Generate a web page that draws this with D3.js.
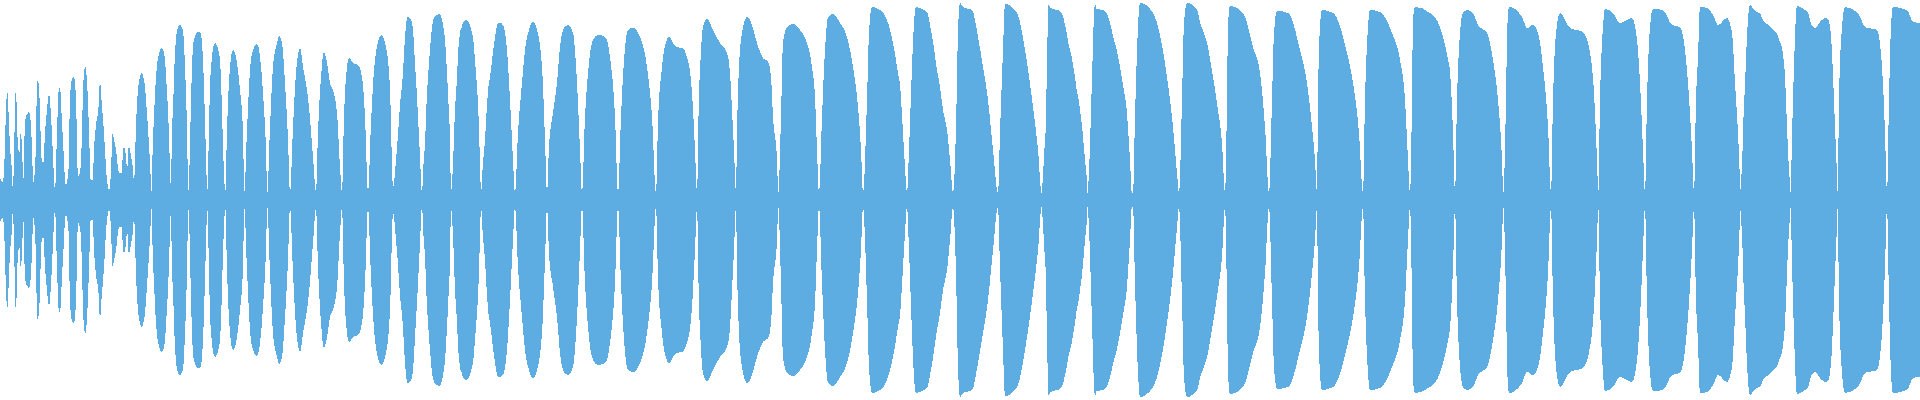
<!DOCTYPE html>
<html>
<head>
<meta charset="utf-8">
<script src="https://cdn.jsdelivr.net/npm/d3@7"></script>
<style>
html,body{margin:0;padding:0;background:#fff;overflow:hidden}
</style>
</head>
<body>
<div id="wave"></div>
<script>
// waveform envelope: [frame, peak level]  (level 200 = full scale)
var onset = [[0,22],[2.7,18],[4,27],[5,57],[6,90],[7.3,108],[8.3,93],[10,53],[11.7,33],[12.7,12],[14,40],[15,92],[16,112],[17.3,67],[19.3,47],[20.7,67],[22,53],[23.3,20],[25,77],[26.7,85],[29.3,88],[31.7,60],[33.3,17],[35.3,37],[36.7,100],[37.7,120],[39.3,107],[41.7,40],[43.3,37],[45,67],[46.7,87],[49,106],[50.7,90],[52.7,50],[55,10],[57.3,77],[58.7,110],[60,113],[61.7,83],[63.3,53],[65.7,15],[68.3,27],[70,100],[71.7,120],[74,123],[76,100],[78,23],[80,27],[81.7,57],[83.3,117],[85.3,134],[87.3,113],[89,70],[90.7,20],[92.7,20],[94,50],[96,75],[98.3,90],[100,118],[101.7,97],[104,67],[106.7,23],[109,10],[110.7,23],[112.7,67],[114,60],[116,50],[118.3,30],
	[120,27],[121.7,27],[122.7,43],[123.3,52],[125,52],[126,40],[127.3,33],[128.7,53],[131.7,40],[133.3,27],[134,12],[135,43],[136.7,90],[138.3,113],[140,123],[141.7,127],[143.3,123],[145,113],[146.7,90],[148.3,67],[150,37],[151.7,8],[152.7,53],[154,83],[156,123],[157.3,137],[159.3,147],[161.7,152],[163.3,150],[165,140],[166.7,113],[168.3,83],[170,33],[171,8],[171.7,53],[173.3,100],[175,147],[176.7,167],[178.3,173],[180,176],[181.7,173],[183.3,167],[185,133],[186.7,83],[187.7,33],[188.7,8],[190,57],[191.7,123],[193.3,157],[195,163],[197.3,168]]

var build = [[200,168],[201.7,160],[203.3,133],[205,80],[206.7,20],[207.3,8],[208.3,40],[210,113],[211.7,140],[213.3,153],[215,157],[216.7,155],[218.3,150],[220,140],[221.5,105],[223.3,45],[225.3,8],[227,70],[230,133],[233,150],[237,137],[240,110],[243,67],[244.3,8],[247,70],[250,130],[253,150],[257,156],[260,143],[263,107],[266,50],[267.3,7],[270,73],[273,133],[277,157],[279,164],[282,157],[285,117],[288,60],[290,7],[293,73],[296,127],[300,152],[303,133],[307,110],[309,93],[313,43],[316,8],[318,67],[321,123],[324,148],[327,137],[330,117],[333,110],[337,87],[340,33],[342,8],[344,83],[347,133],[349,142],[353,137],[358,135],[362,123],[365,83],[368,8],[371,77],[375,140],[381,165],[386,153],[390,110],[393,13],[396,40],[398,65],[400,95],[402.7,123],[405,162],[407.3,183],[410,182],[412.7,173],[415,137],[417.7,90],[420,43],[422,5],[423.3,33],[425,57],[426.7,100],[428.3,127],[430,150],[431.7,170],[433.3,180],[436.7,185],[439.3,186],[441.7,182],[443.3,173],[445,160],[446.7,133],[448.3,100],[450,60],[451,8],[453.3,43],[455,90],[456.7,117],[458.3,150],[460,167],[461.7,173],[463.3,178],[466,180],[470,175],[471.7,168],[473.3,160],[475,140],[476.7,117],[478.3,90],[479.3,60],[480,37],[481,7],[482.7,33],[485,60],[486.7,90],[488.3,112],[490,123],[491.7,137],[493.3,150],[495,163],[496.7,173],[498.3,177]]

var swell = [[500,177],[503,175],[507,150],[510,100],[513,40],[515,7],[518,67],[522,117],[525,150],[529,170],[533,178],[537,170],[542,133],[545,60],[547,7],[549,53],[553,87],[557,117],[560,153],[564,172],[568,175],[573,167],[577,117],[580,50],[582,7],[585,83],[588,127],[593,160],[598,165],[605,163],[610,143],[615,83],[618,7],[621,83],[624,140],[628,170],[633,172],[640,163],[647,133],[652,83],[656,7],[658,77],[662,133],[666,158],[669,163],[676,153],[682,152],[687,143],[692,107],[695,50],[697,7],
	[699,107],[700,130],[703,173],[707,181],[713,170],[720,157],[727,147],[730,127],[732,90],[734,50],[736,7],[737,67],[739,133],[742,167],[747,183],[752,175],[757,157],[763,142],[768,138],[771,123],[773,83],[777,40],[778.3,7],[781,83],[783,157],[787,173],[793,176],[800,170],[807,157],[812,133],[815,103],[817,50],[819,7],[822,83],[825,150],[828,183],[833,186],[840,177],[847,163],[853,133],[858,93],[861,50],[863,7],[867,100],[869,167],[872,193],[880,190],[887,180],[893,157],[898,127]]

var sustain = [[900,115],[903,67],[905,33],[907,7],[909,50],[912,133],[914,177],[916,193],[922,191],[927,188],[930,175],[933,158],[937,130],[940,113],[943,90],[947,70],[950,40],[953,7],[956,73],[958,167],[960,197],[963,193],[972,190],[978,163],[983,133],[988,100],[993,50],[998,7],[1000,67],[1003,150],[1005,196],[1017,187],[1025,150],[1033,93],[1038,50],[1041.7,4],[1042.7,20],[1044,43],[1045,60],[1046,77],[1046.7,123],[1047.7,170],[1048.7,196],[1050,193],[1052.7,191],[1058,190],[1061.7,187],[1063.3,183],[1065,175],[1066.7,167],[1068.3,157],[1070,150],[1071.7,143],[1073.3,133],[1075,123],[1076.7,110],[1078.3,103],[1080,90],[1081.7,77],[1083.3,60],[1085,40],[1086.7,23],[1087.7,4],[1089,30],[1090,53],[1091,90],[1092,120],[1093.3,167],[1095,196],[1096.7,191],[1103.3,190],[1106.7,187],[1110,177],[1113.3,163],[1116.7,150],[1120,133],[1123.3,113],[1126.7,90],[1128.3,67],[1130,40],[1131.7,8],[1133,7],[1135,83],[1138,173],[1140,197],[1153,187],[1167,123],[1173,73],[1177,27],[1179,7],[1182,100],[1184,177],[1187,197],[1197,190],
	[1200,178],[1207,157],[1213,123],[1218,90],[1222,57],[1225,7],[1227,100],[1228,173],[1230,194],[1243,187],[1253,153],[1260,127],[1265,73],[1269,7],[1272,100],[1274,167],[1277,189],[1288,187],[1300,150],[1307,117],[1312,73],[1315,40],[1317,7],[1318,100],[1320,173],[1322,190],[1333,187],[1347,147],[1353,117],[1359,67],[1363,7],[1365,100],[1368,173],[1370,190],[1380,188],[1392,167],[1400,140],[1405,100],[1408,40],[1410,7],[1412,100],[1413,180],[1415,193],[1430,187],[1440,173],[1448,140]]

var tail = [[1450,128],[1453,67],[1455,7],[1457,100],[1460,167],[1463,187],[1467,190],[1473,187],[1478,175],[1487,167],[1493,140],[1498,100],[1502,40],[1503.3,7],[1506,100],[1507.3,173],[1509,193],[1522,183],[1527,172],[1533,175],[1538,167],[1543,133],[1548,73],[1551,7],[1553,100],[1556,167],[1560,187],[1570,172],[1583,168],[1590,147],[1594,107],[1597,40],[1598.3,7],[1600,100],[1603,173],[1605,191],[1613,187],[1620,177],[1632,182],[1637,160],[1640,117],[1643,50],[1645,7],[1647,100],[1650,173],[1653,191],[1663,190],[1672,175],[1680,173],[1685,150],[1688,117],[1692,50],[1694,7],[1696,100],[1698,143],
	[1700,193],[1707,192],[1713,185],[1718,175],[1727,182],[1732,167],[1735,117],[1738,67],[1741,8],[1741.7,33],[1742.7,53],[1743.3,77],[1744.3,100],[1745.3,123],[1746.7,157],[1748.3,185],[1750,195],[1753.3,191],[1756.7,188],[1760,187],[1761.7,183],[1764,178],[1766.7,176],[1770,174],[1773.3,170],[1776.7,167],[1778.3,163],[1780,158],[1781.7,153],[1783.3,143],[1785,123],[1786,100],[1787,73],[1788.3,43],[1789.7,20],[1790.5,8],[1791.7,47],[1792.7,90],[1794,133],[1795,163],[1796.7,193],[1798.3,194],[1801.7,192],[1805,190],[1808.3,187],[1810,180],[1811.7,175],[1815,172],[1817.3,174],[1820,178],[1823.3,181],[1826,182],[1828.3,180],[1830,173],[1831.7,153],[1833.3,117],[1835,73],[1836.7,33],[1837.7,7],[1839,100],[1842,173],[1845,193],[1858,187],[1865,173],[1877,170],[1882,133],[1885,67],[1887,7],[1889,100],[1891,173],[1893,193],[1907,190],[1913,178],[1920,177]]

var floorLevel = 6
var waveColor = "#5dade2"

var width = 1920,
height = 400

var svg = d3.select("#wave").append("svg").attr("width",width).attr("height",height)

var x = d3.scaleLinear().domain([0,1920]).range([0,width])
var y = d3.scaleLinear().domain([-200,200]).range([height,0])

var data = d3.merge([onset,build,swell,sustain,tail]).map(function(p){
	return {frame:p[0], level:Math.max(p[1],floorLevel)}
})

var area = d3.area()
	.x(function(d){return x(d.frame)})
	.y0(function(d){return y(-d.level)})
	.y1(function(d){return y(d.level)})
	.curve(d3.curveMonotoneX)

svg.append("path")
	.datum(data)
	.attr("d",area)
	.attr("fill",waveColor)
	.attr("shape-rendering","crispEdges")
</script>
</body>
</html>
